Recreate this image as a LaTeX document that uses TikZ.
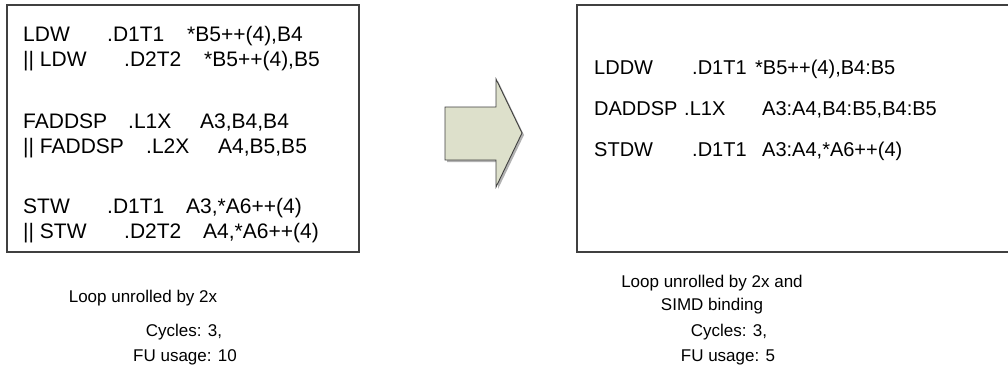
\documentclass[tikz,border=0pt]{standalone}
\usepackage{fontspec}
\setmainfont{Liberation Sans}
\usetikzlibrary{positioning}

\definecolor{boxgray}{RGB}{64,64,64}
\definecolor{arrowfill}{RGB}{221,224,203}

\tikzset{
  codebox/.style={draw=boxgray, line width=1.2pt},
  asm/.style={anchor=base west, inner sep=0pt, font=\fontsize{21}{25}\selectfont},
  simd/.style={anchor=base west, inner sep=0pt, font=\fontsize{20}{25}\selectfont},
  note/.style={anchor=base, inner sep=0pt, font=\fontsize{17}{22}\selectfont},
}

\begin{document}
\begin{tikzpicture}[x=1pt,y=-1pt]
\useasboundingbox (0,0) rectangle (1008,375);
\fill[white] (0,0) rectangle (1008,375);

%boxes
\draw[codebox] (7,5) rectangle (359,252);
\draw[codebox] (577,5) rectangle (1014,252);

%left box: unrolled code
\node[asm] (ldwa)  at (23,41)   {LDW};
\node[asm] (ldwau) at (107,41)  {.D1T1};
\node[asm] (ldwaa) at (187,41)  {*B5++(4),B4};
\node[asm] (ldwb)  at (23,66)   {|| LDW};
\node[asm] (ldwbu) at (124,66)  {.D2T2};
\node[asm] (ldwba) at (204,66)  {*B5++(4),B5};

\node[asm] (adda)  at (23,128)  {FADDSP};
\node[asm] (addau) at (128,128) {.L1X};
\node[asm] (addaa) at (200,128) {A3,B4,B4};
\node[asm] (addb)  at (23,153)  {|| FADDSP};
\node[asm] (addbu) at (146,153) {.L2X};
\node[asm] (addba) at (218,153) {A4,B5,B5};

\node[asm] (stwa)  at (23,213)  {STW};
\node[asm] (stwau) at (107,213) {.D1T1};
\node[asm] (stwaa) at (186,213) {A3,*A6++(4)};
\node[asm] (stwb)  at (23,238)  {|| STW};
\node[asm] (stwbu) at (124,238) {.D2T2};
\node[asm] (stwba) at (203,238) {A4,*A6++(4)};

%right box: SIMD code
\node[simd] (lddw)   at (594,74)  {LDDW};
\node[simd] (lddwu)  at (692,74)  {.D1T1};
\node[simd] (lddwa)  at (755,74)  {*B5++(4),B4:B5};
\node[simd] (dadd)   at (594,115) {DADDSP};
\node[simd] (daddu)  at (684,115) {.L1X};
\node[simd] (dadda)  at (762,115) {A3:A4,B4:B5,B4:B5};
\node[simd] (stdw)   at (594,156) {STDW};
\node[simd] (stdwu)  at (692,156) {.D1T1};
\node[simd] (stdwa)  at (762,156) {A3:A4,*A6++(4)};

%big arrow
\fill[gray!60] (447,109) -- (498,109) -- (498,81) -- (524,135) -- (498,189)
  -- (498,162) -- (447,162) -- cycle;
\filldraw[fill=arrowfill, draw=boxgray, line width=0.9pt]
  (445,107) -- (496,107) -- (496,79) -- (522,133) -- (496,187)
  -- (496,160) -- (445,160) -- cycle;

%captions
\node[note] (capl)  at (143,302) {Loop unrolled by 2x};
\node[note] (cycl)  at (184,336) {Cycles: 3,};
\node[note] (ful)   at (185,361) {FU usage: 10};
\node[note] (capr)  at (712,287) {Loop unrolled by 2x and};
\node[note] (simd)  at (712,310) {SIMD binding};
\node[note] (cycr)  at (729,336) {Cycles: 3,};
\node[note] (fur)   at (728,361) {FU usage: 5};
\end{tikzpicture}
\end{document}
